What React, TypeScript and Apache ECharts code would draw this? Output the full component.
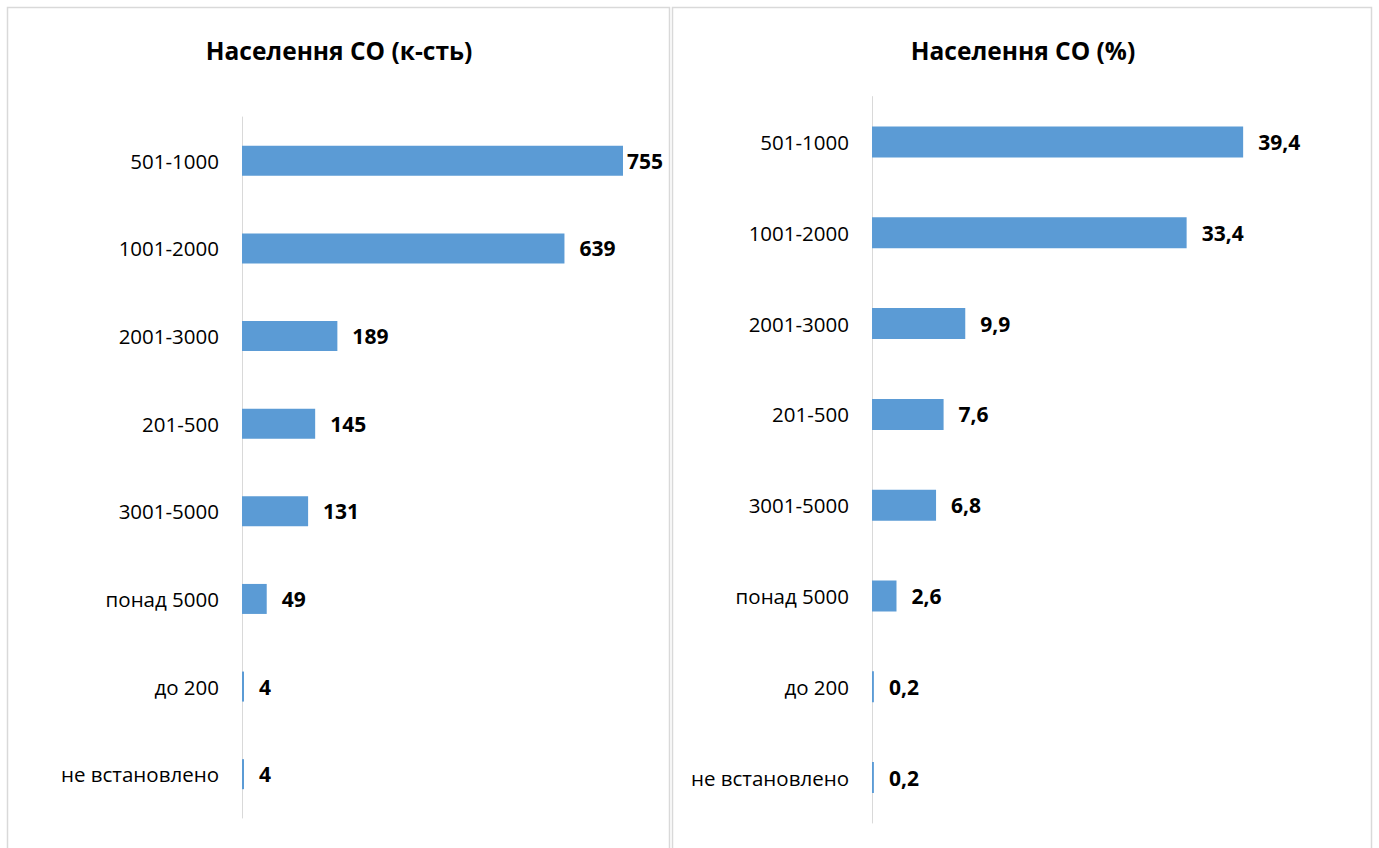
import React, { useEffect, useRef } from "react";
import * as echarts from "echarts";

const categories = ["501-1000", "1001-2000", "2001-3000", "201-500", "3001-5000", "понад 5000", "до 200", "не встановлено"];
const countValues = [755, 639, 189, 145, 131, 49, 4, 4];
const percentValues = [39.4, 33.4, 9.9, 7.6, 6.8, 2.6, 0.2, 0.2];
const titleCount = "Населення СО (к-сть)";
const titlePercent = "Населення СО (%)";

const FONT = "Open Sans";
const BAR = "#5b9bd5";
const GREY = "#d9d9d9";

export default function App() {
  const ref = useRef<HTMLDivElement>(null);
  useEffect(() => {
    if (!ref.current) return;
    const chart = echarts.init(ref.current, null, { renderer: "svg" });
    const catAxis = (gi: number) => ({
      type: "category",
      gridIndex: gi,
      data: categories,
      inverse: true,
      axisLine: { show: true, lineStyle: { color: GREY, width: 1 } },
      axisTick: { show: false },
      axisLabel: { color: "#000", fontFamily: FONT, fontSize: 20.5, margin: 23 },
    });
    const valAxis = (gi: number, max: number) => ({
      type: "value",
      gridIndex: gi,
      min: 0,
      max,
      show: false,
      splitLine: { show: false },
    });
    const lbl = (fmt: (v: number) => string) => ({
      show: true,
      position: "right",
      distance: 15,
      color: "#000",
      fontFamily: FONT,
      fontWeight: "bold",
      fontSize: 21,
      formatter: (p: any) => fmt(p.value),
    });
    const titleStyle = { fontFamily: FONT, fontWeight: "bold", fontSize: 24.5, color: "#000" };
    chart.setOption({
      animation: false,
      backgroundColor: "#fff",
      title: [
        { text: titleCount, left: 334, top: 33, textAlign: "center", textStyle: titleStyle },
        { text: titlePercent, left: 1018, top: 33, textAlign: "center", textStyle: titleStyle },
      ],
      graphic: [
        { type: "rect", shape: { x: 7.5, y: 7.5, width: 662, height: 860 }, style: { fill: "none", stroke: GREY, lineWidth: 1.5 }, z: -1 },
        { type: "rect", shape: { x: 672.5, y: 7.5, width: 699, height: 860 }, style: { fill: "none", stroke: GREY, lineWidth: 1.5 }, z: -1 },
      ],
      grid: [
        { left: 242, top: 117, width: 403.7, height: 701 },
        { left: 872, top: 96.6, width: 376.8, height: 726.4 },
      ],
      xAxis: [valAxis(0, 800), valAxis(1, 40)],
      yAxis: [catAxis(0), catAxis(1)],
      series: [
        {
          type: "bar",
          xAxisIndex: 0,
          yAxisIndex: 0,
          barWidth: 30,
          itemStyle: { color: BAR },
          label: lbl((v) => String(v)),
          data: countValues.map((v, i) => (i === 0 ? { value: v, label: { distance: 4 } } : v)),
        },
        {
          type: "bar",
          xAxisIndex: 1,
          yAxisIndex: 1,
          barWidth: 31,
          itemStyle: { color: BAR },
          label: lbl((v) => v.toFixed(1).replace(".", ",")),
          data: percentValues,
        },
      ],
    });
    return () => chart.dispose();
  }, []);
  return <div ref={ref} style={{ position: "absolute", left: 0, top: 0, width: 1379, height: 848 }} />;
}
